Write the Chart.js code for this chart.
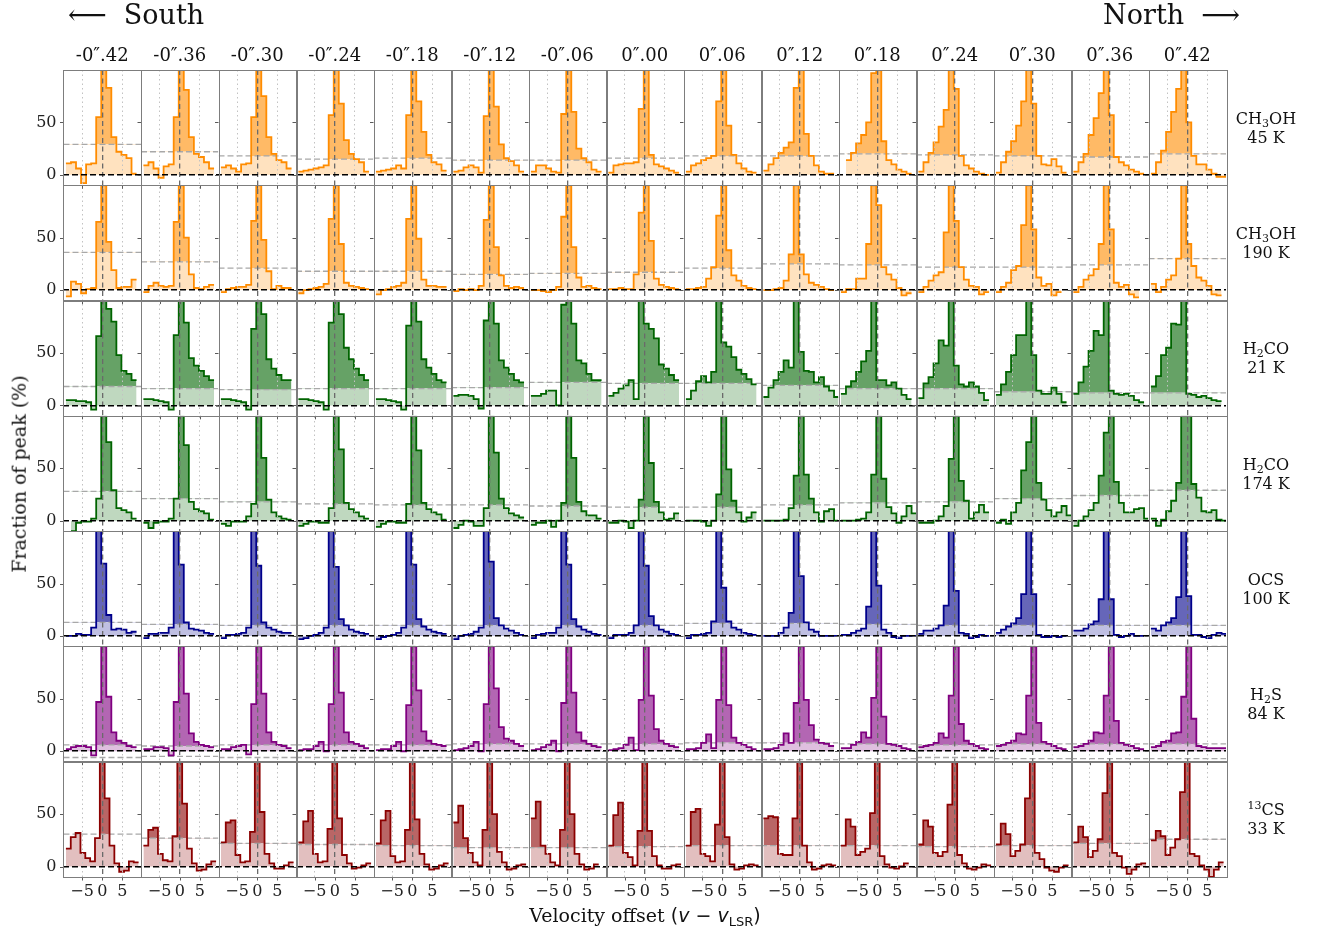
<!DOCTYPE html>
<html lang="en">
<head>
<meta charset="UTF-8" />
<title>Line profiles along the disk</title>
<script src="https://cdn.jsdelivr.net/npm/chart.js"></script>
<style>
  body { margin: 0; background: #fff; }
  #figure { position: relative; width: 1320px; height: 931px; font-family: "DejaVu Serif", serif; color: #111; }
  #figure canvas { position: absolute; left: 0; top: 0; }
  .txt { position: absolute; white-space: nowrap; }
  .colTitle { font-size: 18px; line-height: 20px; text-align: center; }
  .rowLabel { font-size: 16px; line-height: 19px; text-align: center; width: 90px; }
  .rowLabel sub, .rowLabel sup { font-size: 11px; line-height: 0; }
  .rowLabel sub { vertical-align: -3px; }
  .rowLabel sup { vertical-align: 6px; }
  .side { font-size: 27px; line-height: 30px; }
  .axisTitle { font-size: 19px; line-height: 22px; }
  .math { font-family: "DejaVu Sans", sans-serif; }
  .math sub { font-size: 13px; vertical-align: -4px; line-height: 0; }
</style>
</head>
<body>

<div id="figure">
  <canvas id="spectra" width="1320" height="931"></canvas>
  <div id="overlay"></div>
</div>

<script>
// offsets along the disk (column titles)
const offsets = ['-0″.42', '-0″.36', '-0″.30', '-0″.24', '-0″.18', '-0″.12', '-0″.06',
                 '0″.00', '0″.06', '0″.12', '0″.18', '0″.24', '0″.30', '0″.36', '0″.42'];
const molecules = ['CH<sub>3</sub>OH', 'CH<sub>3</sub>OH', 'H<sub>2</sub>CO', 'H<sub>2</sub>CO',
                   'OCS', 'H<sub>2</sub>S', '<sup>13</sup>CS'];
const temperatures = ['45 K', '190 K', '21 K', '174 K', '100 K', '84 K', '33 K'];

const xTicks = [-5, 0, 5];
const yTicks = [0, 50];

// channel edges (km/s), the spectra are step histograms on these bins
const velEdges = [-9.0, -7.75, -6.5, -5.25, -4.0, -2.75, -1.5, -0.25, 1.0, 2.25, 3.5, 4.75, 6.0, 7.25, 8.5, 9.6];
const velEdges13CS = [-9.0, -7.8, -6.6, -5.4, -4.2, -3.0, -1.8, -0.6, 0.6, 1.8, 3.0, 4.2, 5.4, 6.6, 7.8, 9.0];

// detection thresholds (% of peak), one per column
const thrCH3OH45  = [29, 22, 18, 15, 16, 14, 14, 16, 18, 18, 20, 19, 18, 17, 20];
const thrCH3OH190 = [36, 27, 21, 18, 18, 15, 16, 17, 21, 25, 24, 22, 22, 24, 30];
const thrH2CO21   = [18, 16, 15, 16, 16, 17, 22, 21, 21, 19, 16, 16, 13, 12, 12];
const thrH2CO174  = [28, 21, 18, 16, 15, 15, 14, 13, 13, 15, 17, 18, 21, 24, 29];
const thrOCS      = [13, 11, 10, 10, 10, 10, 10, 10, 12, 12, 11, 10, 10, 10, 10];
const thrH2S      = [6, 5, 6, 6, 6, 7, 7, 7, 8, 8, 7, 6, 7, 7, 7];
const thr13CS     = [31, 27, 22, 21, 20, 18, 18, 19, 20, 20, 20, 19, 20, 22, 26];

// spectra, fraction of peak (%) per channel, one list per column
const specCH3OH45 = [
  [11, 12, 6, -8, 10, 11, 55, 100, 83, 36, 22, 19, 16, 1, null],
  [9, 12, 6, -3, 8, 10, 55, 100, 81, 36, 20, 17, 12, 6, null],
  [7, 9, 6, 3, 10, 11, 55, 100, 75, 36, 20, 14, 12, 6, null],
  [3, 4, 5, 6, 7, 9, 57, 100, 68, 33, 20, 15, 12, 3, null],
  [3, 4, 5, 6, 9, 6, 57, 100, 70, 41, 19, 12, 10, 4, null],
  [3, 4, 7, 9, 7, 2, 56, 100, 65, 29, 16, 13, 9, 3, null],
  [3, 9, 9, 6, 3, 2, 58, 100, 60, 25, 16, 12, 5, 3, null],
  [2, 9, 10, 11, 11, 12, 63, 100, 19, 10, 8, 6, 4, 2, null],
  [3, 9, 11, 14, 16, 18, 70, 100, 47, 19, 11, 6, 3, 2, null],
  [4, 10, 16, 21, 26, 31, 83, 100, 39, 18, 9, 3, 1, 1, null],
  [null, 14, 21, 30, 38, 50, 97, 100, 32, 14, 10, 5, 3, 1, null],
  [3, 12, 21, 31, 46, 62, 100, 82, 18, 9, 6, 3, 1, 0, null],
  [2, 12, 22, 32, 47, 70, 100, 68, 18, 10, 9, 15, 8, 2, null],
  [3, 12, 20, 38, 54, 78, 100, 57, 17, 12, 9, 5, 3, 1, null],
  [1, 12, 23, 41, 60, 82, 100, 50, 18, 10, 10, 5, 1, -2, -2]
];
const specCH3OH190 = [
  [-6, 8, 6, -3, 1, 2, 65, 100, 46, 19, 2, 3, 3, 10, null],
  [-2, 4, 7, 4, 3, 4, 65, 100, 50, 15, 2, 1, 3, 5, null],
  [-2, 1, 2, 3, 3, 5, 66, 100, 48, 18, 1, 4, 2, 2, null],
  [-3, 0, 1, 2, 3, 6, 68, 100, 44, 7, 4, 3, 2, 1, null],
  [-4, 0, 1, 3, 4, 7, 68, 100, 49, 10, 4, 4, 3, 3, null],
  [-1, 1, 0, 1, 0, 4, 67, 100, 41, 14, 4, 2, 3, 2, null],
  [0, 0, -1, -2, 0, 3, 70, 100, 41, 12, 3, 4, 2, 1, null],
  [1, 1, 2, 1, 1, 15, 74, 100, 47, 11, 5, 3, 2, 1, null],
  [1, 1, 2, 3, 11, 22, 71, 100, 38, 14, 9, 4, 2, 1, null],
  [0, 0, 1, 2, 9, 34, 100, 34, 15, 7, 5, 3, 1, 0, null],
  [-2, 1, 1, 11, 11, 44, 100, 81, 22, 15, 10, 2, -5, -3, null],
  [-2, 3, 9, 14, 17, 55, 100, 66, 22, 10, 4, 3, -4, -2, null],
  [-2, 3, 7, 19, 23, 62, 100, 58, 12, 4, 6, -5, -2, null, null],
  [-2, 3, 10, 14, 20, 44, 100, 58, 7, 3, 5, -4, -7, null, null],
  [6, -2, 3, 10, 14, 30, 100, 44, 23, 12, 9, 4, -4, -5, null]
];
const specH2CO21 = [
  [5, 5, 4, 4, 3, -4, 66, 100, 92, 80, 48, 33, 30, 24, null],
  [6, 6, 5, 4, 3, -4, 67, 100, 79, 45, 38, 33, 28, 24, null],
  [6, 6, 5, 4, 3, -4, 73, 100, 87, 44, 35, 29, 24, 24, null],
  [6, 6, 5, 4, 3, -4, 79, 100, 87, 55, 44, 35, 29, 24, null],
  [6, 6, 5, 4, 3, -4, 76, 100, 80, 44, 36, 30, 24, 22, null],
  [9, 10, 10, 9, 6, -3, 81, 100, 78, 43, 36, 30, 24, 22, null],
  [9, 9, 11, 14, 14, 0, 96, 100, 78, 43, 40, 30, 24, 24, null],
  [9, 12, 16, 19, 24, 6, 100, 78, 73, 64, 39, 35, 29, 24, null],
  [6, 14, 23, 28, 22, 32, 100, 60, 56, 46, 34, 30, 25, 20, null],
  [8, 17, 24, 32, 43, 36, 100, 51, 33, 32, 22, 27, 18, 14, 8],
  [11, 18, 23, 32, 42, 52, 100, 24, 24, 19, 22, 16, 10, 6, null],
  [7, 21, 27, 40, 62, 57, 100, 38, 20, 18, 22, 18, 12, 5, null],
  [10, 20, 32, 48, 67, 67, 100, 48, 14, 11, 11, 17, 11, 3, null],
  [11, 22, 37, 52, 71, 67, 100, 14, 11, 10, 11, 9, 5, 3, null],
  [18, 28, 48, 55, 78, 77, 100, 11, 10, 8, 9, 7, 5, 4, null]
];
const specH2CO174 = [
  [null, -10, -2, -1, -1, 2, 21, 100, 75, 29, 12, 10, 8, 2, null],
  [-2, -7, -2, -1, -1, 2, 21, 100, 72, 18, 11, 9, 7, 1, null],
  [-3, -5, -1, -1, -1, 4, 16, 100, 60, 20, 8, 4, 2, 1, null],
  [-5, -3, -1, -1, -2, -2, 12, 100, 68, 17, 11, 8, 4, 2, null],
  [-6, -3, -1, -1, -2, -2, 16, 100, 67, 17, 11, 8, 6, 1, null],
  [-7, -4, 0, -1, -5, -5, 12, 100, 65, 21, 12, 7, 5, 3, null],
  [-4, -2, -2, 0, -6, 0, 17, 100, 60, 18, 9, 5, 5, 2, null],
  [-2, -2, 0, -1, -7, 0, 20, 100, 55, 18, 8, 1, 2, 7, null],
  [0, 0, 0, -1, -5, 0, 25, 100, 49, 19, 8, -1, 3, 8, null],
  [0, 0, 0, 0, 1, 12, 43, 100, 44, 21, 8, -1, 9, 11, 0],
  [0, 0, 0, 1, 2, 8, 44, 100, 40, 13, 7, -2, 4, 14, 7],
  [-2, -2, -2, 0, 4, 14, 59, 100, 38, 19, 2, 8, 15, 8, null],
  [-2, 1, -3, 8, 17, 48, 75, 100, 36, 20, 10, 4, 8, 14, 5],
  [-5, 0, 4, 10, 17, 43, 84, 100, 37, 17, 8, 8, 11, 12, 2],
  [2, -5, 1, 9, 19, 36, 100, 100, 35, 22, 9, 8, 10, 1, 0]
];
const specOCS = [
  [0, 0, 2, 1, 1, 8, 100, 69, 20, 6, 7, 6, 3, 4, null],
  [-2, 2, 2, 3, 3, 8, 100, 68, 13, 7, 6, 5, 3, 2, null],
  [-2, 1, 1, 2, 3, 8, 100, 67, 13, 8, 6, 4, 3, 3, null],
  [-3, -2, 0, 1, 3, 8, 100, 66, 16, 10, 6, 4, 3, 2, null],
  [-3, -1, 0, 1, 3, 8, 100, 68, 16, 9, 6, 4, 3, 2, null],
  [-3, 0, 1, 2, 4, 8, 100, 71, 17, 10, 7, 5, 3, 1, null],
  [-2, 1, 2, 3, 3, 8, 100, 68, 16, 9, 6, 4, 2, 1, null],
  [-2, 1, 1, 1, 3, 10, 100, 67, 19, 10, 6, 4, 2, 1, null],
  [-2, 1, 1, 2, 3, 14, 100, 46, 14, 8, 6, 3, 2, 1, null],
  [0, 0, 0, 3, 8, 22, 100, 57, 13, 6, 4, 0, 0, 0, 0],
  [1, 1, 3, 5, 7, 28, 100, 48, 6, 3, -1, -2, 0, 0, 0],
  [2, 5, 5, 7, 10, 29, 100, 43, 3, 2, -2, -1, 1, 0, null],
  [3, 6, 9, 12, 17, 40, 100, 40, 1, -1, -1, 0, -1, 0, null],
  [5, 5, 7, 11, 14, 35, 100, 35, 1, -1, 0, 2, 0, 0, null],
  [7, 5, 10, 13, 17, 37, 100, 38, 1, 1, -1, -2, 1, 3, 2]
];
const specH2S = [
  [2, 4, 5, 5, 4, -4, 47, 100, 52, 18, 10, 8, 5, 4, null],
  [2, 2, 4, 4, 3, -4, 47, 100, 55, 17, 9, 6, 5, 4, null],
  [2, 2, 4, 5, 6, -3, 45, 100, 55, 18, 9, 6, 5, 3, null],
  [1, 2, 2, 5, 9, 0, 45, 100, 56, 18, 9, 7, 5, 3, null],
  [1, 2, 2, 5, 9, 0, 44, 100, 58, 19, 10, 7, 6, 5, null],
  [1, 2, 3, 5, 9, 0, 45, 100, 60, 23, 12, 10, 7, 5, null],
  [1, 2, 4, 6, 10, 0, 46, 100, 56, 18, 10, 7, 5, 4, null],
  [1, 2, 3, 6, 13, 1, 49, 100, 53, 21, 10, 7, 5, 4, null],
  [2, 2, 3, 8, 16, 3, 49, 100, 44, 13, 8, 6, 4, 2, null],
  [2, 2, 3, 6, 17, 8, 46, 100, 49, 25, 11, 8, 7, 5, null],
  [3, 3, 6, 9, 18, 13, 51, 100, 33, 7, 6, 5, 3, 2, null],
  [4, 5, 6, 8, 17, 13, 53, 100, 26, 10, 7, 5, 3, 2, null],
  [5, 6, 8, 10, 17, 16, 53, 100, 27, 9, 7, 5, 3, 2, null],
  [4, 5, 7, 10, 18, 17, 53, 100, 29, 8, 6, 5, 3, 2, null],
  [4, 5, 9, 10, 17, 18, 52, 100, 31, 5, 4, 3, 3, 3, 3]
];
const spec13CS = [
  [17, 28, 32, 13, 8, 5, 27, 100, 65, 20, 3, -5, -4, 5, 4],
  [20, 35, 37, 12, 6, 5, 29, 100, 60, 17, 3, -4, -3, 2, 5],
  [23, 42, 44, 11, 4, 5, 33, 100, 52, 12, 3, -2, -2, 1, 4],
  [23, 43, 53, 12, 4, 5, 36, 100, 46, 11, 3, -2, -1, 1, 3],
  [22, 44, 53, 10, 4, 5, 35, 100, 45, 12, 2, -3, -2, 1, 3],
  [42, 58, 27, 13, 4, 1, 35, 100, 50, 14, 4, -3, -2, 1, 2],
  [46, 62, 20, 12, 4, 1, 35, 100, 50, 12, 2, -3, -2, 2, null],
  [20, 49, 61, 13, 9, 1, 34, 100, 34, 10, 1, -2, -2, 1, 2],
  [20, 52, 55, 12, 10, 5, 40, 100, 28, 2, -3, -2, 1, 2, 1],
  [46, 48, 47, 12, 11, 11, 46, 100, 20, 4, -3, -2, 1, 2, 1],
  [20, 45, 38, 11, 14, 17, 51, 100, 10, 2, -1, -2, 0, 3, null],
  [21, 44, 38, 13, 10, 14, 59, 100, 11, 3, -2, -3, -1, 2, 1],
  [21, 41, 31, 10, 15, 21, 65, 100, 13, 7, -1, -4, -5, -1, 1],
  [23, 38, 28, 9, 15, 26, 70, 100, 13, 10, -1, -7, -3, 2, 3],
  [25, 34, 29, 11, 18, 26, 71, 100, 12, 10, 1, -3, -10, -3, 4]
];

// one panel row per line, top to bottom
const rows = [
  { edges: velEdges, spec: specCH3OH45, thr: thrCH3OH45, color: '#ff8c00', rgb: '255,140,0' },
  { edges: velEdges, spec: specCH3OH190, thr: thrCH3OH190, color: '#ff8c00', rgb: '255,140,0' },
  { edges: velEdges, spec: specH2CO21, thr: thrH2CO21, color: '#006400', rgb: '0,100,0' },
  { edges: velEdges, spec: specH2CO174, thr: thrH2CO174, color: '#006400', rgb: '0,100,0' },
  { edges: velEdges, spec: specOCS, thr: thrOCS, color: '#00008b', rgb: '0,0,139' },
  { edges: velEdges, spec: specH2S, thr: thrH2S, color: '#800080', rgb: '128,0,128' },
  { edges: velEdges13CS, spec: spec13CS, thr: thr13CS, color: '#8b0000', rgb: '139,0,0' }
];

const X_MIN = -9.6, X_MAX = 9.6, Y_MIN = -10, Y_MAX = 100;

// histogram points at the left channel edges, plus the closing right edge
function stepPoints(edges, values) {
  const pts = [];
  let last = -1;
  values.forEach((v, i) => {
    if (v === null) return;
    pts.push({ x: edges[i], y: v });
    last = i;
  });
  pts.push({ x: edges[last + 1], y: values[last] });
  return pts;
}

const datasets = [];
rows.forEach((row, r) => {
  row.spec.forEach((values, c) => {
    const thr = row.thr[c];
    const axes = { xAxisID: 'x' + c, yAxisID: 'y' + r };
    // part of the profile below the threshold, light fill
    datasets.push(Object.assign({
      data: stepPoints(row.edges, values.map(v => v === null ? null : Math.min(v, thr))),
      stepped: true, borderWidth: 0, borderColor: 'rgba(0,0,0,0)', pointRadius: 0, order: 3,
      fill: { target: 'origin', above: `rgba(${row.rgb},0.25)`, below: `rgba(${row.rgb},0.25)` }
    }, axes));
    // the profile itself, dark fill above the threshold
    datasets.push(Object.assign({
      data: stepPoints(row.edges, values),
      stepped: true, borderWidth: 1.8, borderColor: row.color, pointRadius: 0, order: 0,
      fill: { target: { value: thr }, above: `rgba(${row.rgb},0.6)`, below: 'rgba(0,0,0,0)' }
    }, axes));
    // +/- threshold levels
    [thr, -thr].forEach(t => {
      datasets.push(Object.assign({
        data: [{ x: X_MIN, y: t }, { x: X_MAX, y: t }],
        borderWidth: 1.3, borderColor: '#a8a8a8', borderDash: [6, 3], pointRadius: 0, fill: false, order: 1
      }, axes));
    });
  });
});

const tickFont = { family: 'DejaVu Serif', size: 16 };
const scales = {};
offsets.forEach((_, c) => {
  scales['x' + c] = {
    type: 'linear', position: 'bottom', stack: 'columns', stackWeight: 1,
    min: X_MIN, max: X_MAX,
    afterBuildTicks: s => { s.ticks = xTicks.map(v => ({ value: v })); },
    afterFit: s => { s.height = 54; },
    ticks: {
      autoSkip: false, maxRotation: 0, padding: 5, color: '#222', font: tickFont,
      callback: v => v < 0 ? '\u2212' + Math.abs(v) : String(v)
    },
    grid: {
      z: 1, drawTicks: false,
      color: ctx => ctx.tick && ctx.tick.value === 0 ? '#6a6a6a' : '#c2c2c2',
      lineWidth: ctx => ctx.tick && ctx.tick.value === 0 ? 1.3 : 1
    },
    border: {
      display: false,
      dash: ctx => ctx.tick && ctx.tick.value === 0 ? [5, 3.5] : [1.5, 3]
    }
  };
});
// stacked left axes: the last defined one is placed on top
for (let r = rows.length - 1; r >= 0; r--) {
  scales['y' + r] = {
    type: 'linear', position: 'left', stack: 'rows', stackWeight: 1,
    min: Y_MIN, max: Y_MAX,
    afterBuildTicks: s => { s.ticks = yTicks.map(v => ({ value: v })); },
    afterFit: s => { s.width = 63.5; },
    ticks: { padding: 7, color: '#222', font: tickFont },
    grid: {
      z: 1, drawTicks: false, lineWidth: 1.6,
      color: ctx => ctx.tick && ctx.tick.value === 0 ? '#000' : 'rgba(0,0,0,0)'
    },
    border: { display: false, dash: [6, 3] }
  };
}

// clip each profile to its own panel, then draw the panel frames and ticks
const panels = {
  id: 'panels',
  beforeDatasetDraw(chart, args) {
    const xs = args.meta.xScale, ys = args.meta.yScale;
    const ctx = chart.ctx;
    ctx.save();
    ctx.beginPath();
    ctx.rect(xs.left, ys.top, xs.width, ys.height);
    ctx.clip();
  },
  afterDatasetDraw(chart) {
    chart.ctx.restore();
  },
  afterDraw(chart) {
    const ctx = chart.ctx;
    ctx.save();
    ctx.lineWidth = 1;
    rows.forEach((_, r) => {
      const ys = chart.scales['y' + r];
      offsets.forEach((_, c) => {
        const xs = chart.scales['x' + c];
        ctx.strokeStyle = '#5a5a5a';
        ctx.beginPath();
        yTicks.forEach(v => {
          const py = Math.round(ys.getPixelForValue(v)) + 0.5;
          ctx.moveTo(xs.left - 3.5, py);
          ctx.lineTo(xs.left, py);
        });
        xTicks.forEach(v => {
          const px = Math.round(xs.getPixelForValue(v)) + 0.5;
          ctx.moveTo(px, ys.bottom);
          ctx.lineTo(px, ys.bottom + 3.5);
        });
        ctx.stroke();
        ctx.strokeStyle = '#7d7d7d';
        ctx.strokeRect(Math.round(xs.left) + 0.5, Math.round(ys.top) + 0.5,
                       Math.round(xs.width), Math.round(ys.height));
      });
    });
    ctx.restore();
  }
};

Chart.defaults.font.family = 'DejaVu Serif';

const chart = new Chart(document.getElementById('spectra'), {
  type: 'line',
  data: { datasets },
  options: {
    responsive: false,
    animation: false,
    devicePixelRatio: 1,
    events: [],
    layout: { padding: { top: 70, right: 94, left: 0, bottom: 0 } },
    scales,
    plugins: {
      legend: { display: false },
      tooltip: { enabled: false },
      filler: { drawTime: 'beforeDatasetsDraw' }
    }
  },
  plugins: [panels]
});

// texts around the grid
const overlay = document.getElementById('overlay');
function addText(html, cls, style) {
  const d = document.createElement('div');
  d.className = 'txt ' + cls;
  d.innerHTML = html;
  Object.assign(d.style, style);
  overlay.appendChild(d);
  return d;
}

offsets.forEach((t, c) => {
  const s = chart.scales['x' + c];
  addText(t, 'colTitle', { left: s.left + 'px', width: s.width + 'px', top: '45px' });
});
rows.forEach((_, r) => {
  const s = chart.scales['y' + r];
  const mid = (s.top + s.bottom) / 2;
  addText(molecules[r] + '<br>' + temperatures[r], 'rowLabel',
          { left: (1266 - 45) + 'px', top: (mid - 19) + 'px' });
});

addText('⟵&nbsp;&nbsp;South', 'side', { left: '68px', top: '0px' });
addText('North&nbsp;&nbsp;⟶', 'side', { right: '80px', top: '0px' });

const area = chart.chartArea;
const yTitle = addText('Fraction of peak (%)', 'axisTitle', {});
yTitle.style.left = (18 - yTitle.offsetWidth / 2) + 'px';
yTitle.style.top = ((area.top + area.bottom) / 2 - 11) + 'px';
yTitle.style.transform = 'rotate(-90deg)';

const xTitle = addText('Velocity offset <span class="math">(<i>v</i> − <i>v</i><sub>LSR</sub>)</span>', 'axisTitle', {});
xTitle.style.left = ((area.left + area.right) / 2 - xTitle.offsetWidth / 2) + 'px';
xTitle.style.top = '904px';
</script>

</body>
</html>
